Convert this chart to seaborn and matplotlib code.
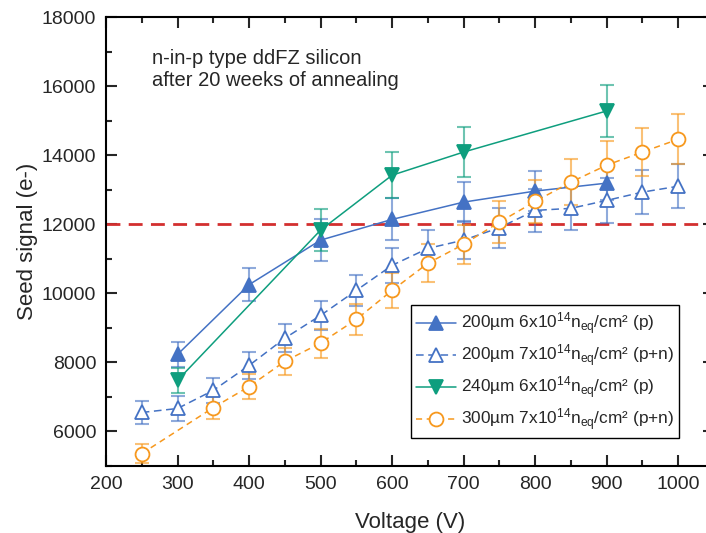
import numpy as np
import pandas as pd
import matplotlib
matplotlib.use("Agg")
import matplotlib.pyplot as plt
import seaborn as sns
from matplotlib.ticker import MultipleLocator

sns.set_theme(style="ticks")
plt.rcParams['font.family'] = ['Liberation Sans', 'DejaVu Sans']
plt.rcParams['mathtext.fontset'] = 'custom'
plt.rcParams['mathtext.rm'] = 'Liberation Sans'
plt.rcParams['mathtext.it'] = 'Liberation Sans'

# Series data
v_a = [300, 400, 500, 600, 700, 800, 900]
s_a = [8230, 10250, 11540, 12140, 12640, 12960, 13190]
e_a = [350, 480, 600, 610, 580, 575, 500]

v_b = [250, 300, 350, 400, 450, 500, 550, 600, 650, 700, 750, 800, 850, 900, 950, 1000]
s_b = [6550, 6665, 7190, 7910, 8700, 9360, 10085, 10810, 11300, 11540, 11900, 12400, 12460, 12690, 12930, 13100]
e_b = [330, 350, 360, 380, 400, 420, 440, 500, 525, 560, 580, 620, 620, 660, 640, 640]

v_c = [300, 500, 600, 700, 900]
s_c = [7480, 11830, 13420, 14090, 15280]
e_c = [370, 600, 670, 720, 760]

v_d = [250, 350, 400, 450, 500, 550, 600, 650, 700, 750, 800, 850, 900, 950, 1000]
s_d = [5360, 6690, 7300, 8030, 8560, 9245, 10085, 10870, 11420, 12060, 12660, 13220, 13710, 14090, 14460]
e_d = [270, 330, 350, 400, 420, 450, 500, 550, 560, 610, 630, 660, 700, 700, 725]

labels = [
    r"200µm 6x10$^{14}$n$_{\mathrm{eq}}$/cm² (p)",
    r"200µm 7x10$^{14}$n$_{\mathrm{eq}}$/cm² (p+n)",
    r"240µm 6x10$^{14}$n$_{\mathrm{eq}}$/cm² (p)",
    r"300µm 7x10$^{14}$n$_{\mathrm{eq}}$/cm² (p+n)",
]
threshold = 12000

blue = "#4472C4"
teal = "#0E9E7E"
orange = "#F7981D"
red = "#D32F2F"

fig = plt.figure(figsize=(7.06, 5.33), dpi=100)
ax = fig.add_axes([106/706, 1-466/533, (714-106)/706, (466-17)/533])

series = [
    (v_a, s_a, e_a, blue, '-', '^', blue),
    (v_b, s_b, e_b, blue, (0, (5, 3)), '^', 'white'),
    (v_c, s_c, e_c, teal, '-', 'v', teal),
    (v_d, s_d, e_d, orange, (0, (4, 3)), 'o', 'white'),
]

ax.axhline(threshold, color=red, lw=2, ls=(0, (5, 3)), zorder=1)

for (v, s, e, c, ls, m, fc), lab in zip(series, labels):
    ax.errorbar(v, s, yerr=e, fmt='none', ecolor=c, alpha=0.6, elinewidth=1.5,
                capsize=5, capthick=1.5, zorder=2)
    df = pd.DataFrame({"V": v, "S": s})
    sns.lineplot(data=df, x="V", y="S", ax=ax, color=c, lw=1.1, linestyle=ls,
                 marker=m, markersize=10.5 if m != 'o' else 10,
                 markerfacecolor=fc, markeredgecolor=c, markeredgewidth=1.3,
                 label=lab, zorder=3)

ax.set_xlim(200, 1050)
ax.set_ylim(5000, 18000)
ax.xaxis.set_minor_locator(MultipleLocator(50))
ax.yaxis.set_major_locator(MultipleLocator(2000))
ax.yaxis.set_minor_locator(MultipleLocator(1000))
ax.set_xticks([200, 300, 400, 500, 600, 700, 800, 900, 1000])
ax.tick_params(which='both', direction='in', top=True, right=True, width=1.5)
ax.tick_params(which='major', length=8, labelsize=14, pad=7)
ax.tick_params(which='minor', length=4)
for sp in ax.spines.values():
    sp.set_linewidth(1.5)
    sp.set_color('black')

ax.set_xlabel("Voltage (V)", fontsize=16, labelpad=14)
ax.set_ylabel("Seed signal (e-)", fontsize=16, labelpad=3)

ax.text(0.076, 0.928, "n-in-p type ddFZ silicon\nafter 20 weeks of annealing",
        transform=ax.transAxes, fontsize=14.5, va='top', ha='left', linespacing=1.2)

leg = ax.legend(loc='lower left', bbox_to_anchor=(0.502, 0.062), fontsize=12.4,
                frameon=True, fancybox=False, edgecolor='black', framealpha=1,
                handlelength=2.3, handletextpad=0.3, borderpad=0.3, labelspacing=0.32,
                borderaxespad=0)
leg.get_frame().set_linewidth(1.0)

fig.savefig("out.png", dpi=100)
